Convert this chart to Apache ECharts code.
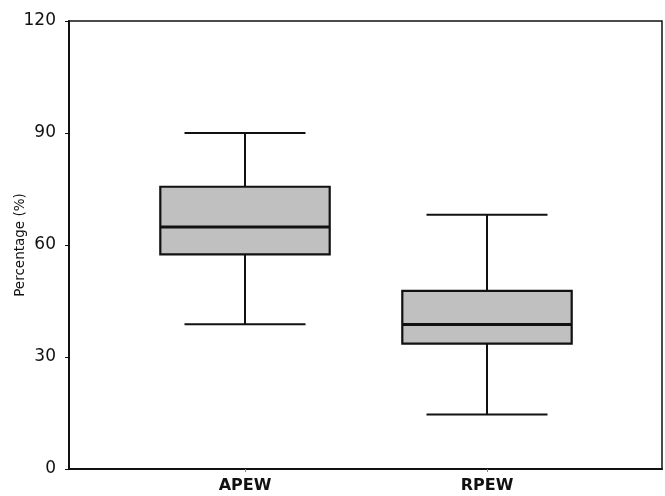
<!DOCTYPE html>
<html>
<head>
<meta charset="utf-8">
<script src="https://cdn.jsdelivr.net/npm/echarts@6/dist/echarts.min.js"></script>
<style>
  html, body { margin: 0; padding: 0; background: #fff; }
  #chart { width: 665px; height: 496px; }
</style>
</head>
<body>
<div id="chart"></div>
<script>
// categories and box statistics: [min, Q1, median, Q3, max]
var categories = ['APEW', 'RPEW'];
var boxStats = [
    [38.8, 57.5, 64.8, 75.6, 90],
    [14.6, 33.6, 38.7, 47.7, 68.1]
];
var yTicks = { min: 0, max: 120, interval: 30 };

var chart = echarts.init(document.getElementById('chart'));

// 每个箱体：须线、箱、中位线
function renderBox(params, api) {
    var cat = api.value(0);
    var band = api.size([1, 0])[0];
    var boxHalf = band * 0.35;
    var capHalf = band * 0.25;
    var pMin = api.coord([cat, api.value(1)]);
    var pQ1 = api.coord([cat, api.value(2)]);
    var pMed = api.coord([cat, api.value(3)]);
    var pQ3 = api.coord([cat, api.value(4)]);
    var pMax = api.coord([cat, api.value(5)]);
    var x = pMed[0];
    var line = { stroke: '#111', lineWidth: 2 };
    return {
        type: 'group',
        children: [
            { type: 'line', shape: { x1: x, y1: pMax[1], x2: x, y2: pQ3[1] }, style: line },
            { type: 'line', shape: { x1: x, y1: pQ1[1], x2: x, y2: pMin[1] }, style: line },
            { type: 'line', shape: { x1: x - capHalf, y1: pMax[1], x2: x + capHalf, y2: pMax[1] }, style: line },
            { type: 'line', shape: { x1: x - capHalf, y1: pMin[1], x2: x + capHalf, y2: pMin[1] }, style: line },
            { type: 'rect', shape: { x: x - boxHalf, y: pQ3[1], width: boxHalf * 2, height: pQ1[1] - pQ3[1] },
              style: { fill: '#c0c0c0', stroke: '#111', lineWidth: 2.2 } },
            { type: 'line', shape: { x1: x - boxHalf, y1: pMed[1], x2: x + boxHalf, y2: pMed[1] },
              style: { stroke: '#111', lineWidth: 3 } }
        ]
    };
}

var seriesData = boxStats.map(function (s, i) {
    return [i].concat(s);
});

var option = {
    animation: false,
    backgroundColor: '#fff',
    textStyle: { fontFamily: 'DejaVu Sans' },
    grid: [
        // 外框
        { left: 69, right: 3, top: 21, bottom: 27, show: true, borderColor: '#111', borderWidth: 1.5,
          outerBoundsMode: 'none', containLabel: false },
        // 箱体区域
        { left: 124, right: 57, top: 21, bottom: 27, outerBoundsMode: 'none', containLabel: false }
    ],
    xAxis: [
        { gridIndex: 0, type: 'value', min: 0, max: 1,
          axisLine: { show: true, lineStyle: { color: '#111', width: 2 } },
          axisTick: { show: false }, axisLabel: { show: false }, splitLine: { show: false } },
        { gridIndex: 1, type: 'category', data: categories, boundaryGap: true,
          axisLine: { show: false },
          axisTick: { show: true, alignWithLabel: true, length: 3, lineStyle: { color: '#888' } },
          axisLabel: { color: '#111', fontSize: 16, fontWeight: 'bold', margin: 9 } }
    ],
    yAxis: [
        { gridIndex: 0, type: 'value', min: yTicks.min, max: yTicks.max, interval: yTicks.interval,
          name: 'Percentage (%)', nameLocation: 'middle', nameGap: 42, nameMoveOverlap: false,
          nameTextStyle: { color: '#111', fontSize: 13.5 },
          axisLine: { show: true, lineStyle: { color: '#111', width: 2 } },
          axisTick: { show: true, length: 4, lineStyle: { color: '#111' } },
          axisLabel: { color: '#111', fontSize: 17, fontWeight: 500, margin: 13 },
          splitLine: { show: false } },
        { gridIndex: 1, type: 'value', min: yTicks.min, max: yTicks.max, show: false }
    ],
    series: [{
        type: 'custom',
        xAxisIndex: 1,
        yAxisIndex: 1,
        renderItem: renderBox,
        encode: { x: 0, y: [1, 2, 3, 4, 5] },
        data: seriesData
    }]
};
chart.setOption(option);
</script>
</body>
</html>
